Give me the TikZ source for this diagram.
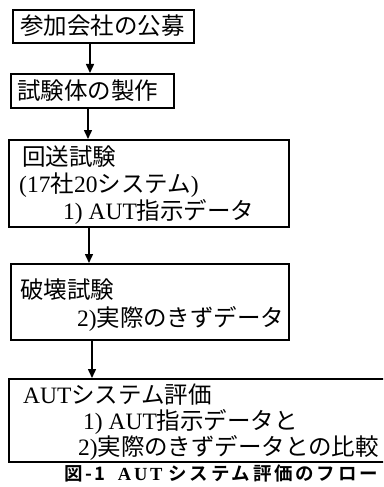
\documentclass[tikz,border=0pt]{standalone}
\usepackage{fontspec}
\setmainfont{Liberation Serif}
\newfontfamily\jp{Noto Sans CJK JP}
\newfontfamily\jpb{Noto Sans CJK JP Bold}[LetterSpace=15]
\newfontfamily\capl{Liberation Serif Bold}[LetterSpace=15]
\usetikzlibrary{arrows.meta}
\newcommand{\J}[1]{{\jp #1}}
\begin{document}
\begin{tikzpicture}[x=1pt,y=-1pt,
  box/.style={draw,line width=1.6pt,rectangle,inner sep=0pt,anchor=north west},
  txt/.style={anchor=west,inner sep=0pt,font=\fontsize{23.5}{23.5}\selectfont},
  arr/.style={line width=1.5pt,-{Triangle[length=9pt,width=8pt]}}]
\useasboundingbox (0,0) rectangle (383,487);
\begin{scope}
\clip (0,0) rectangle (383,487);
\node[box,minimum width=181pt,minimum height=33pt] (b1) at (12,9) {};
\node[box,minimum width=163pt,minimum height=34pt] (b2) at (10,73) {};
\node[box,minimum width=280pt,minimum height=87pt] (b3) at (8,139) {};
\node[box,minimum width=278pt,minimum height=76pt] (b4) at (10,263) {};
\node[box,minimum width=390pt,minimum height=83pt] (b5) at (8,378) {};
\end{scope}
% texts
\node[txt] (t1) at (20,26) {\J{参加会社の公募}};
\node[txt] (t2) at (17,91) {\J{試験体の製作}};
\node[txt] (t3a) at (22,157) {\J{回送試験}};
\node[txt] (t3b) at (19,185) {(17\J{社}20\J{システム})};
\node[txt] (t3c) at (63,212) {1) AUT\J{指示データ}};
\node[txt] (t4a) at (20,290) {\J{破壊試験}};
\node[txt] (t4b) at (77,319) {2)\J{実際のきずデータ}};
\node[txt] (t5a) at (23,395) {AUT\J{システム評価}};
\node[txt] (t5b) at (83,422) {1) AUT\J{指示データと}};
\node[txt] (t5c) at (78,448) {2)\J{実際のきずデータとの比較}};
\node[anchor=center,inner sep=0pt,font=\fontsize{18.5}{18.5}\selectfont] (cap) at (221,473) {{\jpb 図-1}\hspace{12pt}{\capl AUT}\hspace{6pt}{\jpb システム評価のフロー}};
% arrows
\coordinate (x1) at (90,0);
\coordinate (x2) at (88,0);
\coordinate (x3) at (89,0);
\coordinate (x4) at (92,0);
\draw[arr] (b1.south -| x1) -- (b2.north -| x1);
\draw[arr] (b2.south -| x2) -- (b3.north -| x2);
\draw[arr] (b3.south -| x3) -- (b4.north -| x3);
\draw[arr] (b4.south -| x4) -- (b5.north -| x4);
\end{tikzpicture}
\end{document}
